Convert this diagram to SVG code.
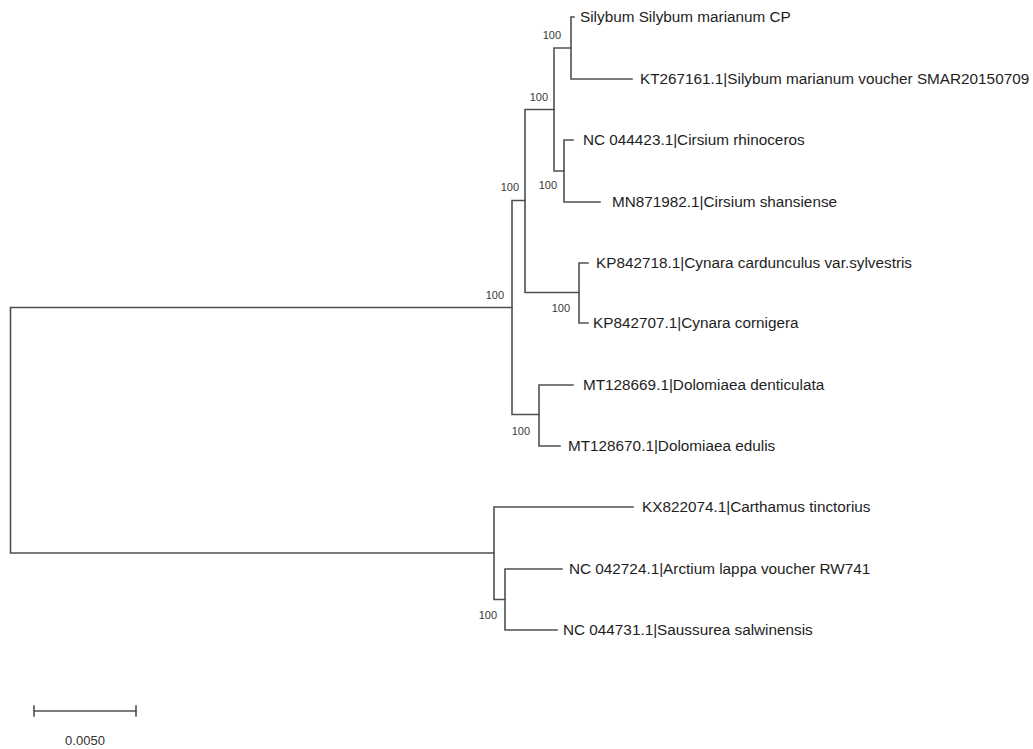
<svg xmlns="http://www.w3.org/2000/svg" width="1033" height="749" viewBox="0 0 1033 749">
<style>
.br{fill:none;stroke:#505050;stroke-width:1.6;stroke-linecap:square}
.tip{font-family:"Liberation Sans",Arial,sans-serif;font-size:15.3px;fill:#1e1e1e}
.bs{font-family:"Liberation Sans",Arial,sans-serif;font-size:11px;fill:#3a3a3a;text-anchor:end}
.sc{font-family:"Liberation Sans",Arial,sans-serif;font-size:13px;fill:#333;text-anchor:middle}
</style>
<rect width="1033" height="749" fill="#fff"/>
<g id="connectors">
<path class="br" d="M494,553 H10.5 V307.5 H512"/>
<path class="br" d="M525,200.5 H512 V414.5 H539"/>
<path class="br" d="M554,109.5 H525 V292.5 H579"/>
<path class="br" d="M571,48 H554 V171 H564"/>
<path class="br" d="M574,17 H571 V79 H632"/>
<path class="br" d="M573,140 H564 V202 H600"/>
<path class="br" d="M588,263 H579 V323 H588"/>
<path class="br" d="M573,385 H539 V446 H560"/>
<path class="br" d="M633,507 H494 V599.5 H505"/>
<path class="br" d="M562,569 H505 V630 H557"/>
<line class="br" x1="34" y1="711" x2="136" y2="711"/>
<line class="br" x1="34" y1="706" x2="34" y2="716"/>
<line class="br" x1="136" y1="706" x2="136" y2="716"/>
</g>
<g id="tip-silybum-cp"><text class="tip" x="580" y="22">Silybum Silybum marianum CP</text></g>
<g id="tip-kt267161"><text class="tip" x="640" y="84">KT267161.1|Silybum marianum voucher SMAR20150709</text></g>
<g id="tip-nc044423"><text class="tip" x="583" y="145">NC 044423.1|Cirsium rhinoceros</text></g>
<g id="tip-mn871982"><text class="tip" x="612" y="207">MN871982.1|Cirsium shansiense</text></g>
<g id="tip-kp842718"><text class="tip" x="596" y="268">KP842718.1|Cynara cardunculus var.sylvestris</text></g>
<g id="tip-kp842707"><text class="tip" x="593" y="328">KP842707.1|Cynara cornigera</text></g>
<g id="tip-mt128669"><text class="tip" x="583" y="390">MT128669.1|Dolomiaea denticulata</text></g>
<g id="tip-mt128670"><text class="tip" x="568" y="451">MT128670.1|Dolomiaea edulis</text></g>
<g id="tip-kx822074"><text class="tip" x="642" y="512">KX822074.1|Carthamus tinctorius</text></g>
<g id="tip-nc042724"><text class="tip" x="569" y="574">NC 042724.1|Arctium lappa voucher RW741</text></g>
<g id="tip-nc044731"><text class="tip" x="563" y="635">NC 044731.1|Saussurea salwinensis</text></g>
<g id="bootstrap">
<text class="bs" x="561" y="39">100</text>
<text class="bs" x="548" y="101">100</text>
<text class="bs" x="557" y="189">100</text>
<text class="bs" x="519" y="191">100</text>
<text class="bs" x="570" y="312">100</text>
<text class="bs" x="504" y="299">100</text>
<text class="bs" x="530" y="435">100</text>
<text class="bs" x="497" y="619">100</text>
</g>
<g id="scale"><text class="sc" x="85" y="745">0.0050</text></g>
</svg>
